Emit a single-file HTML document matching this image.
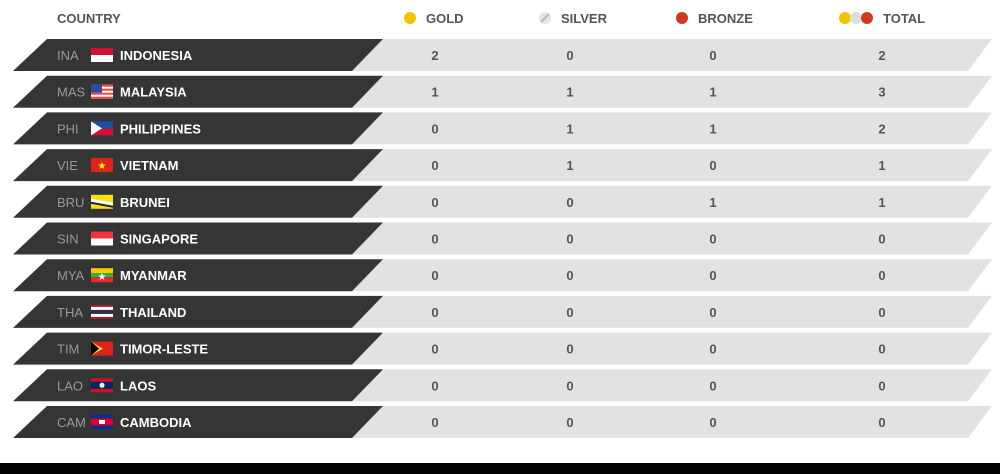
<!DOCTYPE html>
<html><head><style>
html,body{margin:0;padding:0;background:#fff;width:1000px;height:474px;overflow:hidden}
svg{display:block}
text{font-family:"Liberation Sans",sans-serif}
.h{font-size:13px;font-weight:bold;fill:#555}
.c{font-size:13px;fill:#9a9a9a}
.n{font-size:13px;font-weight:bold;fill:#fff}
.v{font-size:13px;font-weight:bold;fill:#555;text-anchor:middle}
</style></head><body>
<svg width="1000" height="474" viewBox="0 0 1000 474">
<text x="57" y="23" class="h">COUNTRY</text>
<circle cx="410" cy="18" r="6" fill="#f2c400"/><text x="426" y="23" class="h">GOLD</text>
<circle cx="545" cy="18" r="6" fill="#e6e6e6"/><path d="M549 14 L541 22" stroke="#bbb" stroke-width="2"/><text x="561" y="23" class="h">SILVER</text>
<circle cx="682" cy="18" r="6" fill="#cc3a22"/><text x="698" y="23" class="h">BRONZE</text>
<circle cx="845" cy="18" r="6" fill="#f2c400"/><circle cx="856" cy="18" r="6" fill="#ddd"/><circle cx="867" cy="18" r="6" fill="#cc3a22"/><text x="883" y="23" class="h">TOTAL</text>
<g id="rows"></g>
<rect x="0" y="463" width="1000" height="11" fill="#000"/>
</svg>
<script>
var d=[["INA","INDONESIA",2,0,0,2],["MAS","MALAYSIA",1,1,1,3],["PHI","PHILIPPINES",0,1,1,2],["VIE","VIETNAM",0,1,0,1],["BRU","BRUNEI",0,0,1,1],["SIN","SINGAPORE",0,0,0,0],["MYA","MYANMAR",0,0,0,0],["THA","THAILAND",0,0,0,0],["TIM","TIMOR-LESTE",0,0,0,0],["LAO","LAOS",0,0,0,0],["CAM","CAMBODIA",0,0,0,0]];
var flags={INA:'<rect width="22" height="7" fill="#d21034"/><rect y="7" width="22" height="7" fill="#fff"/>',
MAS:'<rect width="22" height="14" fill="#fff"/><rect y="0" width="22" height="2" fill="#e44"/><rect y="4" width="22" height="2" fill="#e44"/><rect y="8" width="22" height="2" fill="#e44"/><rect y="12" width="22" height="2" fill="#e44"/><rect width="11" height="8" fill="#2a4ba0"/>',
PHI:'<rect width="22" height="7" fill="#1f4fa8"/><rect y="7" width="22" height="7" fill="#d21034"/><path d="M0 0 L11 7 L0 14Z" fill="#fff"/>',
VIE:'<rect width="22" height="14" fill="#da251d"/><text x="11" y="11" font-size="10" fill="#ff0" text-anchor="middle">★</text>',
BRU:'<rect width="22" height="14" fill="#f7e017"/><path d="M0 4 L22 8 L22 11 L0 7Z" fill="#fff"/><path d="M0 7 L22 11 L22 13 L0 9Z" fill="#222"/>',
SIN:'<rect width="22" height="7" fill="#ef3340"/><rect y="7" width="22" height="7" fill="#fff"/>',
MYA:'<rect width="22" height="5" fill="#fecb00"/><rect y="5" width="22" height="4" fill="#34b233"/><rect y="9" width="22" height="5" fill="#ea2839"/><text x="11" y="12" font-size="10" fill="#fff" text-anchor="middle">★</text>',
THA:'<rect width="22" height="14" fill="#a51931"/><rect y="2" width="22" height="10" fill="#fff"/><rect y="5" width="22" height="4" fill="#2d2a4a"/>',
TIM:'<rect width="22" height="14" fill="#dc241f"/><path d="M0 0 L12 7 L0 14Z" fill="#ffc726"/><path d="M0 0 L8 7 L0 14Z" fill="#000"/>',
LAO:'<rect width="22" height="14" fill="#ce1126"/><rect y="3.5" width="22" height="7" fill="#002868"/><circle cx="11" cy="7" r="2.5" fill="#fff"/>',
CAM:'<rect width="22" height="14" fill="#032ea1"/><rect y="3.5" width="22" height="7" fill="#e00025"/><rect x="8" y="5" width="6" height="4" fill="#fff"/>'};
var s='';
d.forEach(function(r,i){var t=39+i*36.7,b=t+32,m=t+21;
s+='<polygon points="352,'+b+' 383,'+t+' 992,'+t+' 968,'+b+'" fill="#e2e2e2"/>';
s+='<polygon points="13,'+b+' 47,'+t+' 383,'+t+' 352,'+b+'" fill="#353535"/>';
s+='<text x="57" y="'+m+'" class="c">'+r[0]+'</text>';
s+='<g transform="translate(91,'+(t+9)+')">'+flags[r[0]]+'</g>';
s+='<text x="120" y="'+m+'" class="n">'+r[1]+'</text>';
[435,570,713,882].forEach(function(x,j){s+='<text x="'+x+'" y="'+m+'" class="v">'+r[j+2]+'</text>';});
});
document.getElementById('rows').innerHTML=s;
</script>
</body></html>
